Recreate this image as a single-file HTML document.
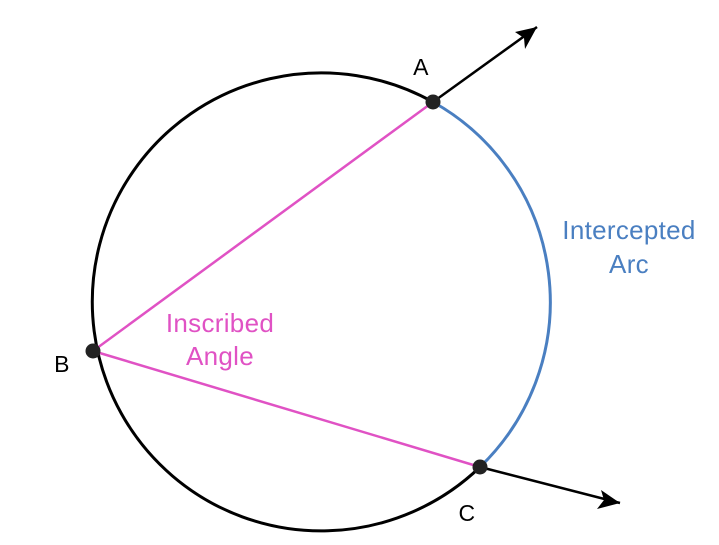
<!DOCTYPE html>
<html><head><meta charset="utf-8"><style>
html,body{margin:0;padding:0;background:#fff;}
svg{display:block;}
text{font-family:"Liberation Sans",sans-serif;font-size:26px;letter-spacing:0.3px;}
</style></head><body>
<svg width="719" height="545" viewBox="0 0 719 545" xmlns="http://www.w3.org/2000/svg">
<path d="M480,467 A229,229 0 1 1 433,102" fill="none" stroke="#000" stroke-width="3"/>
<path d="M433,102 A229,229 0 0 1 480,467" fill="none" stroke="#4a7fc1" stroke-width="3"/>
<line x1="433" y1="102" x2="537" y2="27" stroke="#000" stroke-width="2.5"/>
<path d="M537,27 L515,32 L524,38 L525,49 Z" fill="#000"/>
<line x1="480" y1="467" x2="620" y2="503" stroke="#000" stroke-width="2.5"/>
<path d="M620,503 L601,490 L604,500 L597,509 Z" fill="#000"/>
<line x1="93" y1="351" x2="433" y2="102" stroke="#e052c4" stroke-width="2.5"/>
<line x1="93" y1="351" x2="480" y2="467" stroke="#e052c4" stroke-width="2.5"/>
<circle cx="433" cy="102" r="7.5" fill="#222"/>
<circle cx="93" cy="351" r="7.5" fill="#222"/>
<circle cx="480" cy="467" r="7.5" fill="#222"/>
<text x="421" y="75" fill="#000" text-anchor="middle" style="font-size:23px">A</text>
<text x="62" y="372" fill="#000" text-anchor="middle" style="font-size:23px">B</text>
<text x="467" y="521" fill="#000" text-anchor="middle" style="font-size:23px">C</text>
<text x="629" y="239" fill="#4a7fc1" text-anchor="middle">Intercepted</text>
<text x="629" y="273" fill="#4a7fc1" text-anchor="middle">Arc</text>
<text x="220" y="332" fill="#e052c4" text-anchor="middle">Inscribed</text>
<text x="220" y="365" fill="#e052c4" text-anchor="middle">Angle</text>
</svg>
</body></html>
